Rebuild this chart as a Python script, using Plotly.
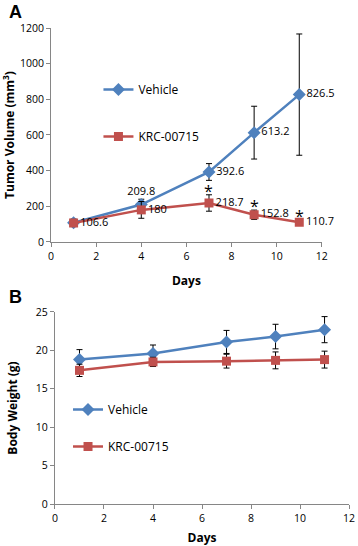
import plotly.graph_objects as go

days = [1, 4, 7, 9, 11]

# Panel A: tumor volume (mm^3)
veh_tumor = [108, 209.8, 392.6, 613.2, 826.5]
veh_tumor_err = [20, 30, 47, 148, 340]
veh_tumor_text = ["", "209.8", "392.6", "613.2", "826.5"]
krc_tumor = [106.6, 180, 218.7, 152.8, 110.7]
krc_tumor_err = [20, 47, 46, 26, 15]
krc_tumor_text = ["106.6", "180", "218.7", "152.8", "110.7"]
signif = ["", "", "*", "*", "*"]

# Panel B: body weight (g)
veh_weight = [18.8, 19.6, 21.1, 21.8, 22.7]
veh_weight_err = [1.3, 1.1, 1.5, 1.6, 1.7]
krc_weight = [17.4, 18.5, 18.6, 18.7, 18.8]
krc_weight_err = [0.8, 0.6, 0.9, 1.1, 1.1]

BLUE = "#4F81BD"
RED = "#C0504D"
FONT = "Open Sans"

fig = go.Figure()

def err(arr):
    return dict(type="data", array=arr, visible=True, color="black", thickness=1, width=3)

fig.add_trace(go.Scatter(
    x=days, y=veh_tumor, name="Vehicle", mode="lines+markers+text",
    line=dict(color=BLUE, width=2.5), marker=dict(symbol="diamond", size=10, color=BLUE),
    error_y=err(veh_tumor_err), text=veh_tumor_text, cliponaxis=False,
    textposition=["middle right", "top center", "middle right", "middle right", "middle right"],
    textfont=dict(size=11, color="black", family=FONT),
    xaxis="x", yaxis="y", legend="legend", legendgroup="a1"))
fig.add_trace(go.Scatter(
    x=days, y=krc_tumor, name="KRC-00715", mode="lines+markers+text",
    line=dict(color=RED, width=2.5), marker=dict(symbol="square", size=9, color=RED),
    error_y=err(krc_tumor_err), text=krc_tumor_text, cliponaxis=False,
    textposition="middle right",
    textfont=dict(size=11, color="black", family=FONT),
    xaxis="x", yaxis="y", legend="legend", legendgroup="a2"))

for d, v, e, s in zip(days, krc_tumor, krc_tumor_err, signif):
    if s:
        fig.add_annotation(x=d, y=v + e, text=s, showarrow=False, xref="x", yref="y",
                           yanchor="bottom", yshift=-9, font=dict(size=16, color="black", family=FONT))

fig.add_trace(go.Scatter(
    x=days, y=veh_weight, name="Vehicle", mode="lines+markers",
    line=dict(color=BLUE, width=2.5), marker=dict(symbol="diamond", size=10, color=BLUE),
    error_y=err(veh_weight_err), xaxis="x2", yaxis="y2", legend="legend2", legendgroup="b1"))
fig.add_trace(go.Scatter(
    x=days, y=krc_weight, name="KRC-00715", mode="lines+markers",
    line=dict(color=RED, width=2.5), marker=dict(symbol="square", size=9, color=RED),
    error_y=err(krc_weight_err), xaxis="x2", yaxis="y2", legend="legend2", legendgroup="b2"))

axis_common = dict(showline=True, linecolor="#868686", linewidth=1, ticks="outside",
                   tickcolor="#868686", ticklen=4, showgrid=False, zeroline=False,
                   automargin=False,
                   tickfont=dict(size=10.5, color="black", family=FONT))

fig.update_layout(
    width=358, height=546, margin=dict(l=0, r=0, t=0, b=0),
    plot_bgcolor="white", paper_bgcolor="white",
    font=dict(family=FONT, color="black"),
    xaxis=dict(domain=[0.1425, 0.899], range=[0, 12], dtick=2, anchor="y",
               title=dict(text="<b>Days</b>", font=dict(size=12)), **axis_common),
    yaxis=dict(domain=[0.5568, 0.9487], range=[0, 1200], dtick=200, anchor="x",
               title=dict(text="<b>Tumor Volume (mm<sup>3</sup>)</b>", font=dict(size=12)),
               **axis_common),
    xaxis2=dict(domain=[0.1536, 0.975], range=[0, 12], dtick=2, anchor="y2",
                title=dict(text="<b>Days</b>", font=dict(size=12)), **axis_common),
    yaxis2=dict(domain=[0.0769, 0.4286], range=[0, 25], dtick=5, anchor="x2",
                title=dict(text="<b>Body Weight (g)</b>", font=dict(size=12)),
                **axis_common),
    legend=dict(x=0.275, y=1 - 113 / 546, xanchor="left", yanchor="middle", bgcolor="rgba(0,0,0,0)",
                font=dict(size=12, family=FONT), tracegroupgap=28, itemwidth=30),
    legend2=dict(x=0.19, y=1 - 428 / 546, xanchor="left", yanchor="middle", bgcolor="rgba(0,0,0,0)",
                 font=dict(size=12, family=FONT), tracegroupgap=18, itemwidth=30),
    showlegend=True,
)

fig.add_annotation(x=0.02, y=1.0, xref="paper", yref="paper", text="<b>A</b>", showarrow=False,
                   xanchor="left", yanchor="top", font=dict(size=18, family="Liberation Sans"))
fig.add_annotation(x=0.02, y=1 - 285 / 546, xref="paper", yref="paper", text="<b>B</b>", showarrow=False,
                   xanchor="left", yanchor="top", font=dict(size=18, family="Liberation Sans"))

fig.write_html("out.html", config={"displayModeBar": False},
               post_script="document.body.style.margin='0';document.body.style.overflow='hidden';")
